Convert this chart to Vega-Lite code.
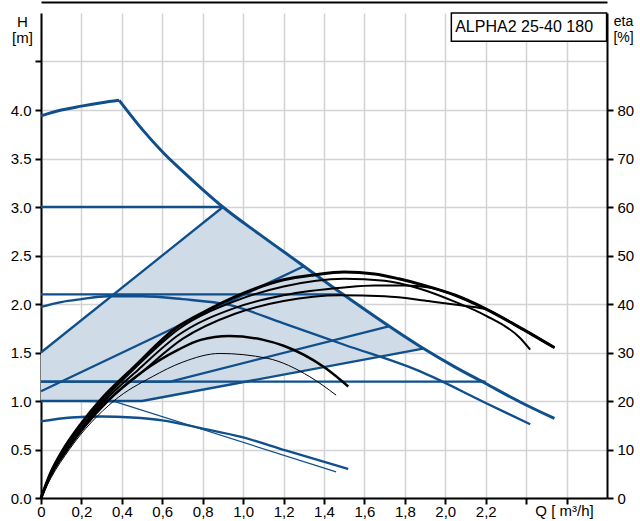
{
  "$schema": "https://vega.github.io/schema/vega-lite/v6.json",
  "width": 566,
  "height": 485,
  "autosize": {"type": "none"},
  "padding": {"left": 41, "top": 13, "right": 33, "bottom": 23},
  "background": "white",
  "config": {
    "view": {"stroke": null},
    "font": "Liberation Sans",
    "axis": {
      "domainColor": "black", "domainWidth": 2,
      "tickColor": "black", "tickWidth": 2, "tickSize": 6,
      "labelColor": "black", "labelFont": "Liberation Sans", "labelFontSize": 15,
      "labelOverlap": false, "labelFlush": false,
      "gridColor": "#d3d3d3", "gridWidth": 1.5,
      "titleFont": "Liberation Sans", "titleFontSize": 15, "titleFontWeight": "normal", "titleColor": "black"
    }
  },
  "datasets": {
    "shade": [
      {"q": 0, "lo": 1.0, "hi": 1.5},
      {"q": 0.5, "lo": 1.0, "hi": 2.333},
      {"q": 0.9, "lo": 1.155, "hi": 3.0},
      {"q": 1.08, "lo": 1.225, "hi": 2.73},
      {"q": 1.28, "lo": 1.3, "hi": 2.42},
      {"q": 1.48, "lo": 1.38, "hi": 2.11},
      {"q": 1.72, "lo": 1.47, "hi": 1.78},
      {"q": 1.89, "lo": 1.54, "hi": 1.54}
    ],
    "blue": [
      {"s": "CP3", "q": 0, "h": 3.0}, {"s": "CP3", "q": 0.9, "h": 3.0},
      {"s": "CP2", "q": 0, "h": 2.1}, {"s": "CP2", "q": 1.485, "h": 2.1},
      {"s": "CP1", "q": 0, "h": 1.2}, {"s": "CP1", "q": 2.2, "h": 1.2},
      {"s": "PP3", "q": 0, "h": 1.5}, {"s": "PP3", "q": 0.9, "h": 3.0},
      {"s": "PP2", "q": 0, "h": 1.1}, {"s": "PP2", "q": 1.3, "h": 2.39},
      {"s": "PPb", "q": 0, "h": 1.2}, {"s": "PPb", "q": 0.64, "h": 1.2}, {"s": "PPb", "q": 1.72, "h": 1.77},
      {"s": "PP1", "q": 0, "h": 1.0}, {"s": "PP1", "q": 0.5, "h": 1.0}, {"s": "PP1", "q": 1.89, "h": 1.54},
      {"s": "II", "q": 0, "h": 1.97}, {"s": "II", "q": 0.1, "h": 2.02}, {"s": "II", "q": 0.2, "h": 2.05},
      {"s": "II", "q": 0.33, "h": 2.08}, {"s": "II", "q": 0.5, "h": 2.08}, {"s": "II", "q": 0.7, "h": 2.05},
      {"s": "II", "q": 0.93, "h": 1.99}, {"s": "II", "q": 1.2, "h": 1.8}, {"s": "II", "q": 1.5, "h": 1.58},
      {"s": "II", "q": 1.87, "h": 1.31}, {"s": "II", "q": 2.2, "h": 0.98}, {"s": "II", "q": 2.42, "h": 0.76},
      {"s": "I", "q": 0, "h": 0.79}, {"s": "I", "q": 0.15, "h": 0.83}, {"s": "I", "q": 0.3, "h": 0.84},
      {"s": "I", "q": 0.45, "h": 0.83}, {"s": "I", "q": 0.6, "h": 0.8}, {"s": "I", "q": 0.79, "h": 0.72},
      {"s": "I", "q": 0.99, "h": 0.63}, {"s": "I", "q": 1.21, "h": 0.49}, {"s": "I", "q": 1.52, "h": 0.3},
      {"s": "IIIa", "q": 0, "h": 3.94}, {"s": "IIIa", "q": 0.1, "h": 4.0}, {"s": "IIIa", "q": 0.2, "h": 4.04},
      {"s": "IIIa", "q": 0.3, "h": 4.075}, {"s": "IIIa", "q": 0.387, "h": 4.1},
      {"s": "IIIb", "q": 0.387, "h": 4.1}, {"s": "IIIb", "q": 0.505, "h": 3.79},
      {"s": "IIIb", "q": 0.605, "h": 3.56}, {"s": "IIIb", "q": 0.7, "h": 3.37}, {"s": "IIIb", "q": 0.8, "h": 3.18},
      {"s": "IIIb", "q": 0.9, "h": 3.0}, {"s": "IIIb", "q": 1.08, "h": 2.72}, {"s": "IIIb", "q": 1.28, "h": 2.42},
      {"s": "IIIb", "q": 1.48, "h": 2.12}, {"s": "IIIb", "q": 1.87, "h": 1.57}, {"s": "IIIb", "q": 2.04, "h": 1.36},
      {"s": "IIIb", "q": 2.2, "h": 1.18}, {"s": "IIIb", "q": 2.37, "h": 0.99}, {"s": "IIIb", "q": 2.54, "h": 0.82},
      {"s": "N", "q": 0, "h": 1.0}, {"s": "N", "q": 0.37, "h": 0.99}, {"s": "N", "q": 1.46, "h": 0.27}
    ],
    "eta": [
      {"s": "T1", "q": 0, "eta": 0}, {"s": "T1", "q": 0.05, "eta": 5.4}, {"s": "T1", "q": 0.11, "eta": 10},
      {"s": "T1", "q": 0.2, "eta": 15.4}, {"s": "T1", "q": 0.29, "eta": 20}, {"s": "T1", "q": 0.46, "eta": 27},
      {"s": "T1", "q": 0.68, "eta": 35.4}, {"s": "T1", "q": 0.79, "eta": 38}, {"s": "T1", "q": 1.0, "eta": 42.2},
      {"s": "T1", "q": 1.2, "eta": 45}, {"s": "T1", "q": 1.35, "eta": 46}, {"s": "T1", "q": 1.5, "eta": 46.6},
      {"s": "T1", "q": 1.65, "eta": 46.2}, {"s": "T1", "q": 1.77, "eta": 45.2}, {"s": "T1", "q": 1.9, "eta": 43.8},
      {"s": "T1", "q": 2.05, "eta": 41.8}, {"s": "T1", "q": 2.19, "eta": 39.2}, {"s": "T1", "q": 2.35, "eta": 35.6},
      {"s": "T1", "q": 2.54, "eta": 31},
      {"s": "T2", "q": 0, "eta": 0}, {"s": "T2", "q": 0.05, "eta": 5.3}, {"s": "T2", "q": 0.11, "eta": 9.9},
      {"s": "T2", "q": 0.3, "eta": 19.8}, {"s": "T2", "q": 0.47, "eta": 27}, {"s": "T2", "q": 0.68, "eta": 34.8},
      {"s": "T2", "q": 0.96, "eta": 40.6}, {"s": "T2", "q": 1.2, "eta": 43.6}, {"s": "T2", "q": 1.5, "eta": 45.2},
      {"s": "T2", "q": 1.7, "eta": 44.8}, {"s": "T2", "q": 1.87, "eta": 43.2}, {"s": "T2", "q": 2.04, "eta": 40.6},
      {"s": "T2", "q": 2.2, "eta": 37.6}, {"s": "T2", "q": 2.37, "eta": 33}, {"s": "T2", "q": 2.42, "eta": 30.6},
      {"s": "T3", "q": 0, "eta": 0}, {"s": "T3", "q": 0.05, "eta": 5.1}, {"s": "T3", "q": 0.12, "eta": 10},
      {"s": "T3", "q": 0.31, "eta": 19.8}, {"s": "T3", "q": 0.48, "eta": 26.4}, {"s": "T3", "q": 0.68, "eta": 33.6},
      {"s": "T3", "q": 0.96, "eta": 39.2}, {"s": "T3", "q": 1.2, "eta": 41.8}, {"s": "T3", "q": 1.5, "eta": 43.4},
      {"s": "T3", "q": 1.65, "eta": 43.8}, {"s": "T3", "q": 1.8, "eta": 43.8}, {"s": "T3", "q": 1.92, "eta": 43.4},
      {"s": "T3", "q": 2.05, "eta": 41.8}, {"s": "T3", "q": 2.19, "eta": 39.2}, {"s": "T3", "q": 2.35, "eta": 35.6},
      {"s": "T3", "q": 2.54, "eta": 31},
      {"s": "T4", "q": 0, "eta": 0}, {"s": "T4", "q": 0.05, "eta": 5}, {"s": "T4", "q": 0.12, "eta": 9.8},
      {"s": "T4", "q": 0.32, "eta": 19.6}, {"s": "T4", "q": 0.5, "eta": 26}, {"s": "T4", "q": 0.7, "eta": 32.8},
      {"s": "T4", "q": 0.96, "eta": 38}, {"s": "T4", "q": 1.2, "eta": 40.6}, {"s": "T4", "q": 1.48, "eta": 41.8},
      {"s": "T4", "q": 1.7, "eta": 41.6}, {"s": "T4", "q": 1.92, "eta": 40.6}, {"s": "T4", "q": 2.1, "eta": 39.6},
      {"s": "T4", "q": 2.2, "eta": 38.9}, {"s": "T4", "q": 2.35, "eta": 35.6}, {"s": "T4", "q": 2.54, "eta": 31},
      {"s": "T5", "q": 0, "eta": 0}, {"s": "T5", "q": 0.05, "eta": 4.8}, {"s": "T5", "q": 0.13, "eta": 10},
      {"s": "T5", "q": 0.33, "eta": 20}, {"s": "T5", "q": 0.5, "eta": 26}, {"s": "T5", "q": 0.68, "eta": 30.6},
      {"s": "T5", "q": 0.79, "eta": 32.6}, {"s": "T5", "q": 0.93, "eta": 33.4}, {"s": "T5", "q": 1.1, "eta": 32.6},
      {"s": "T5", "q": 1.2, "eta": 31.4}, {"s": "T5", "q": 1.4, "eta": 27}, {"s": "T5", "q": 1.52, "eta": 23},
      {"s": "T6", "q": 0, "eta": 0}, {"s": "T6", "q": 0.05, "eta": 4.2}, {"s": "T6", "q": 0.14, "eta": 10},
      {"s": "T6", "q": 0.36, "eta": 20}, {"s": "T6", "q": 0.55, "eta": 25}, {"s": "T6", "q": 0.7, "eta": 28},
      {"s": "T6", "q": 0.885, "eta": 29.8}, {"s": "T6", "q": 1.12, "eta": 28.8}, {"s": "T6", "q": 1.33, "eta": 25},
      {"s": "T6", "q": 1.46, "eta": 21.2}
    ],
    "box": [{"q": 2.03, "q2": 2.798, "h": 4.71, "h2": 5.0, "label": "ALPHA2 25-40 180", "tq": 2.39, "th": 4.8}]
  },
  "layer": [
    {
      "data": {"name": "shade"},
      "mark": {"type": "area", "color": "#cfdbe7", "opacity": 1, "interpolate": "linear"},
      "encoding": {
        "x": {"field": "q", "type": "quantitative", "scale": {"domain": [0, 2.8], "nice": false, "zero": false},
          "axis": {"orient": "bottom", "values": [0, 0.2, 0.4, 0.6, 0.8, 1.0, 1.2, 1.4, 1.6, 1.8, 2.0, 2.2, 2.4, 2.6],
            "grid": true, "labelPadding": 0,
            "labelExpr": "datum.value == 0 ? '0' : (datum.value > 2.3 ? '' : replace(format(datum.value, '.1f'), '.', ','))",
            "title": "Q [ m³/h]", "titleX": 523, "titleY": 17, "titleAlign": "center", "titleBaseline": "alphabetic"}},
        "y": {"field": "lo", "type": "quantitative", "scale": {"domain": [0, 5], "nice": false},
          "axis": {"orient": "left", "values": [0, 0.5, 1, 1.5, 2, 2.5, 3, 3.5, 4, 4.5], "grid": true, "labelPadding": 4,
            "labelExpr": "datum.value > 4.2 ? '' : format(datum.value, '.1f')",
            "title": ["H", "[m]"], "titleAngle": 0, "titleX": -19, "titleY": 13, "titleAlign": "center",
            "titleBaseline": "alphabetic", "titleLineHeight": 16, "titleFontSize": 15}},
        "y2": {"field": "hi"}
      }
    },
    {
      "data": {"name": "blue"},
      "transform": [{"filter": "datum.s == 'CP3' || datum.s == 'CP2' || datum.s == 'CP1' || datum.s == 'PP3' || datum.s == 'PP2' || datum.s == 'PPb' || datum.s == 'PP1'"}],
      "mark": {"type": "line", "color": "#0f4f8b", "strokeWidth": 2.3},
      "encoding": {
        "x": {"field": "q", "type": "quantitative", "scale": {"domain": [0, 2.8], "nice": false, "zero": false}, "axis": null},
        "y": {"field": "h", "type": "quantitative", "scale": {"domain": [0, 5], "nice": false}, "axis": null},
        "detail": {"field": "s"}
      }
    },
    {
      "data": {"name": "blue"},
      "transform": [{"filter": "datum.s == 'I' || datum.s == 'II'"}],
      "mark": {"type": "line", "color": "#0f4f8b", "strokeWidth": 2.3, "interpolate": "monotone"},
      "encoding": {
        "x": {"field": "q", "type": "quantitative", "scale": {"domain": [0, 2.8], "nice": false, "zero": false}, "axis": null},
        "y": {"field": "h", "type": "quantitative", "scale": {"domain": [0, 5], "nice": false}, "axis": null},
        "detail": {"field": "s"}
      }
    },
    {
      "data": {"name": "blue"},
      "transform": [{"filter": "datum.s == 'IIIa' || datum.s == 'IIIb'"}],
      "mark": {"type": "line", "color": "#0f4f8b", "strokeWidth": 3, "interpolate": "monotone"},
      "encoding": {
        "x": {"field": "q", "type": "quantitative", "scale": {"domain": [0, 2.8], "nice": false, "zero": false}, "axis": null},
        "y": {"field": "h", "type": "quantitative", "scale": {"domain": [0, 5], "nice": false}, "axis": null},
        "detail": {"field": "s"}
      }
    },
    {
      "data": {"name": "blue"},
      "transform": [{"filter": "datum.s == 'N'"}],
      "mark": {"type": "line", "color": "#0f4f8b", "strokeWidth": 1.2},
      "encoding": {
        "x": {"field": "q", "type": "quantitative", "scale": {"domain": [0, 2.8], "nice": false, "zero": false}, "axis": null},
        "y": {"field": "h", "type": "quantitative", "scale": {"domain": [0, 5], "nice": false}, "axis": null}
      }
    },
    {
      "data": {"name": "eta"},
      "transform": [{"filter": "datum.s == 'T1'"}],
      "mark": {"type": "line", "color": "black", "strokeWidth": 3, "interpolate": "monotone"},
      "encoding": {
        "x": {"field": "q", "type": "quantitative", "scale": {"domain": [0, 2.8], "nice": false, "zero": false}, "axis": null},
        "y": {"field": "eta", "type": "quantitative", "scale": {"domain": [0, 100], "nice": false},
          "axis": {"orient": "right", "values": [0, 10, 20, 30, 40, 50, 60, 70, 80], "grid": false, "labelPadding": 4,
            "title": ["eta", "[%]"], "titleAngle": 0, "titleX": 16, "titleY": 12, "titleAlign": "center",
            "titleBaseline": "alphabetic", "titleLineHeight": 16, "titleFontSize": 14}}
      }
    },
    {
      "data": {"name": "eta"},
      "transform": [{"filter": "datum.s == 'T2' || datum.s == 'T3' || datum.s == 'T4'"}],
      "mark": {"type": "line", "color": "black", "strokeWidth": 2, "interpolate": "monotone"},
      "encoding": {
        "x": {"field": "q", "type": "quantitative", "scale": {"domain": [0, 2.8], "nice": false, "zero": false}, "axis": null},
        "y": {"field": "eta", "type": "quantitative", "scale": {"domain": [0, 100], "nice": false}, "axis": null},
        "detail": {"field": "s"}
      }
    },
    {
      "data": {"name": "eta"},
      "transform": [{"filter": "datum.s == 'T5'"}],
      "mark": {"type": "line", "color": "black", "strokeWidth": 2.5, "interpolate": "monotone"},
      "encoding": {
        "x": {"field": "q", "type": "quantitative", "scale": {"domain": [0, 2.8], "nice": false, "zero": false}, "axis": null},
        "y": {"field": "eta", "type": "quantitative", "scale": {"domain": [0, 100], "nice": false}, "axis": null}
      }
    },
    {
      "data": {"name": "eta"},
      "transform": [{"filter": "datum.s == 'T6'"}],
      "mark": {"type": "line", "color": "black", "strokeWidth": 1, "interpolate": "monotone"},
      "encoding": {
        "x": {"field": "q", "type": "quantitative", "scale": {"domain": [0, 2.8], "nice": false, "zero": false}, "axis": null},
        "y": {"field": "eta", "type": "quantitative", "scale": {"domain": [0, 100], "nice": false}, "axis": null}
      }
    },
    {
      "data": {"name": "box"},
      "mark": {"type": "rect", "fill": "white", "stroke": "black", "strokeWidth": 1.5},
      "encoding": {
        "x": {"field": "q", "type": "quantitative", "scale": {"domain": [0, 2.8], "nice": false, "zero": false},
          "axis": {"orient": "top", "offset": 11, "domain": true, "domainWidth": 2, "ticks": false, "labels": false, "grid": false, "title": null}},
        "x2": {"field": "q2"},
        "y": {"field": "h", "type": "quantitative", "scale": {"domain": [0, 5], "nice": false}, "axis": null},
        "y2": {"field": "h2"}
      }
    },
    {
      "data": {"name": "box"},
      "mark": {"type": "text", "fontSize": 16, "font": "Liberation Sans", "align": "center", "baseline": "alphabetic", "color": "black"},
      "encoding": {
        "x": {"field": "tq", "type": "quantitative", "scale": {"domain": [0, 2.8], "nice": false, "zero": false}, "axis": null},
        "y": {"field": "th", "type": "quantitative", "scale": {"domain": [0, 5], "nice": false}, "axis": null},
        "text": {"field": "label"}
      }
    }
  ],
  "resolve": {"scale": {"y": "independent"}, "axis": {"x": "independent", "y": "independent"}}
}
